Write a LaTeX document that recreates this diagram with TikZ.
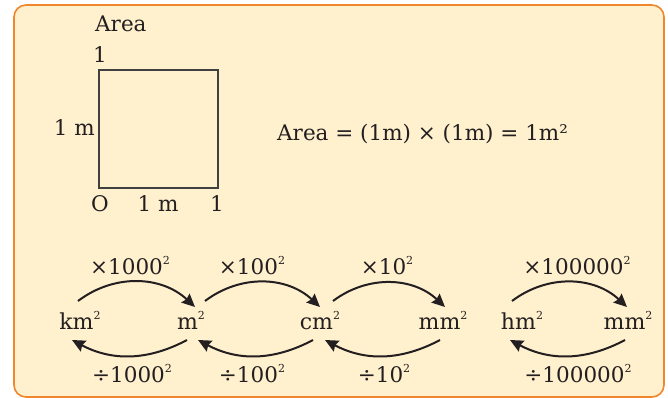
\documentclass[tikz,border=0pt]{standalone}
\usepackage{fontspec}
\setmainfont{DejaVu Serif}
\usetikzlibrary{arrows.meta}
\newcommand{\sqr}{\raisebox{10pt}{\fontsize{11}{11}\selectfont 2}}

\begin{document}
\begin{tikzpicture}[x=1pt,y=1pt,
  txt/.style={font=\fontsize{21.5}{25}\selectfont,text=ldark,inner sep=0pt},
  unit/.style={txt,font=\fontsize{22}{26}\selectfont,anchor=base},
  conv/.style={ldark,line width=2pt,-{Stealth[length=13pt,width=12pt,inset=1.5pt]}}]
  \definecolor{lcream}{RGB}{255,240,206}
  \definecolor{lorange}{RGB}{240,135,45}
  \definecolor{ldark}{RGB}{35,31,32}
  \definecolor{lgrey}{RGB}{64,64,64}
  \useasboundingbox (0,0) rectangle (668,398);
  \clip (0,0) rectangle (668,398);
  \draw[lorange,fill=lcream,line width=1.6pt,rounded corners=12pt] (14,1) rectangle (664,393);
  % unit square
  \draw[lgrey,line width=1.6pt] (99,210) rectangle (218,328);
  \node[txt,anchor=base west] (title) at (95,366) {Area};
  \node[txt,anchor=base] (ytick) at (100,335) {1};
  \node[txt,anchor=base east] (ylab) at (95,262) {1 m};
  \node[txt,anchor=base] (orig) at (100,186) {O};
  \node[txt,anchor=base] (xlab) at (158,186) {1 m};
  \node[txt,anchor=base] (xtick) at (217,186) {1};
  \node[txt,anchor=base west] (formula) at (277,257) {Area = (1m) × (1m) = 1m²};
  % units
  \node[unit] (km) at (80,68) {km\sqr};
  \node[unit] (m) at (191,68) {m\sqr};
  \node[unit] (cm) at (320,68) {cm\sqr};
  \node[unit] (mm) at (443,68) {mm\sqr};
  \node[unit] (hm) at (522,68) {hm\sqr};
  \node[unit] (mmb) at (628,68) {mm\sqr};
  % conversions
  \draw[conv] ([shift={(-2,29)}]km.base) to[bend left=40] ([shift={(4,23)}]m.base);
  \draw[conv] ([shift={(14,29)}]m.base) to[bend left=40] ([shift={(0,23)}]cm.base);
  \draw[conv] ([shift={(13,29)}]cm.base) to[bend left=40] ([shift={(2,23)}]mm.base);
  \draw[conv] ([shift={(-10,29)}]hm.base) to[bend left=40] ([shift={(-1,23)}]mmb.base);
  \draw[conv] ([shift={(-4,-10)}]m.base) to[bend left=28] ([shift={(-8,-10)}]km.base);
  \draw[conv] ([shift={(-7,-10)}]cm.base) to[bend left=28] ([shift={(7,-10)}]m.base);
  \draw[conv] ([shift={(-3,-10)}]mm.base) to[bend left=28] ([shift={(5,-10)}]cm.base);
  \draw[conv] ([shift={(-3,-10)}]mmb.base) to[bend left=28] ([shift={(-12,-10)}]hm.base);
  \node[txt,anchor=base] (mul1) at (130,123) {×1000\sqr};
  \node[txt,anchor=base] (mul2) at (252,123) {×100\sqr};
  \node[txt,anchor=base] (mul3) at (387,123) {×10\sqr};
  \node[txt,anchor=base] (mul4) at (577,123) {×100000\sqr};
  \node[txt,anchor=base] (div1) at (132,15) {÷1000\sqr};
  \node[txt,anchor=base] (div2) at (252,15) {÷100\sqr};
  \node[txt,anchor=base] (div3) at (384,15) {÷10\sqr};
  \node[txt,anchor=base] (div4) at (578,15) {÷100000\sqr};
\end{tikzpicture}
\end{document}
